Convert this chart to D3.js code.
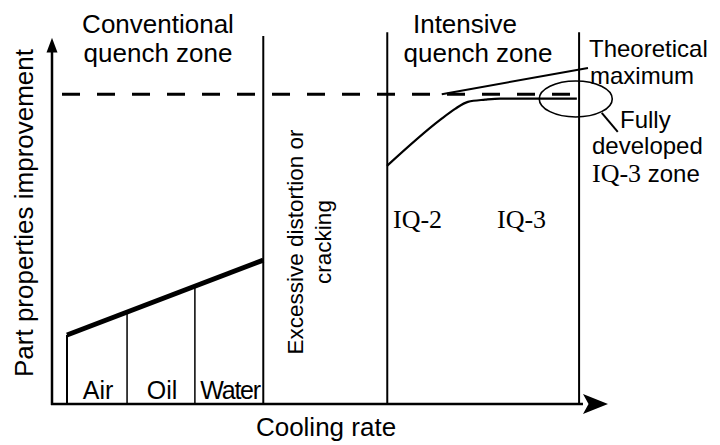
<!DOCTYPE html>
<html>
<head>
<meta charset="utf-8">
<script src="https://cdn.jsdelivr.net/npm/d3@7"></script>
<style>
  body { margin: 0; background: #fff; }
  svg { display: block; }
  text { font-family: "Liberation Sans", Arial, sans-serif; fill: #000; }
  .serif { font-family: "Liberation Serif", "Times New Roman", serif; }
</style>
</head>
<body>
<div id="chart"></div>
<script>
  // cooling rate (x) and improvement (y) are schematic, 0-100 each
  const mediaBounds = [2.7, 13.5, 25.7, 38.0];
  const mediaLabels = ["Air", "Oil", "Water"];
  const conventionalLine = [[2.7, 18.75], [38.0, 39.1]];
  const zoneDividers = [38.0, 60.3, 94.8];
  const zoneTitles = [["Conventional", "quench zone"], ["Intensive", "quench zone"]];
  const intensiveCurve = [[60.25, 64.7], [69.8, 77.2], [72.5, 80.2], [74.8, 82.1], [77.9, 82.7], [80.6, 83.0], [94.4, 83.0]];
  const theoreticalMax = 84.2;
  const theoreticalLine = [[70.1, 84.2], [96.4, 91.3]];
  const iqStages = ["IQ-2", "IQ-3"];
  const fullyDeveloped = {x: 94.2, y: 82.9};

  const width = 720, height = 445;
  const x = d3.scaleLinear().domain([0, 100]).range([52, 608]);
  const y = d3.scaleLinear().domain([0, 100]).range([404, 36]);

  const svg = d3.select("#chart").append("svg")
    .attr("width", width)
    .attr("height", height);

  const line = d3.line().x(d => x(d[0])).y(d => y(d[1]));

  // zone dividers
  svg.selectAll(".divider")
    .data(zoneDividers)
    .enter().append("line")
    .attr("class", "divider")
    .attr("x1", d => x(d)).attr("x2", d => x(d))
    .attr("y1", (d, i) => i === 0 ? y(100) : y(101))
    .attr("y2", y(0))
    .attr("stroke", "#000")
    .attr("stroke-width", 2);

  // media sub-zones (Air / Oil / Water)
  svg.selectAll(".media")
    .data(mediaBounds.slice(0, 3))
    .enter().append("line")
    .attr("class", "media")
    .attr("x1", d => x(d)).attr("x2", d => x(d))
    .attr("y1", d => {
      // the sub-zone line stops where it meets the thick line
      const a = conventionalLine[0], b = conventionalLine[1];
      return y(a[1] + (b[1] - a[1]) * (d - a[0]) / (b[0] - a[0]));
    })
    .attr("y2", y(0))
    .attr("stroke", "#000")
    .attr("stroke-width", (d, i) => i === 0 ? 2 : 1.5);

  svg.selectAll(".mediaLabel")
    .data(mediaLabels)
    .enter().append("text")
    .attr("class", "mediaLabel")
    .attr("x", (d, i) => (x(mediaBounds[i]) + x(mediaBounds[i + 1])) / 2 + 1)
    .attr("y", 399)
    .attr("text-anchor", "middle")
    .style("font-size", "25px")
    .style("letter-spacing", d => d === "Water" ? "-1.2px" : null)
    .text(d => d);

  // conventional quench line
  svg.append("path")
    .attr("d", line(conventionalLine))
    .attr("fill", "none")
    .attr("stroke", "#000")
    .attr("stroke-width", 5);

  // theoretical maximum (dashed)
  svg.append("line")
    .attr("x1", x(1.8)).attr("x2", x(94.1))
    .attr("y1", y(theoreticalMax)).attr("y2", y(theoreticalMax))
    .attr("stroke", "#000")
    .attr("stroke-width", 3)
    .attr("stroke-dasharray", "18,17");

  svg.append("path")
    .attr("d", line(theoreticalLine))
    .attr("fill", "none")
    .attr("stroke", "#000")
    .attr("stroke-width", 2);

  // intensive quench curve
  svg.append("path")
    .attr("d", d3.line().x(d => x(d[0])).y(d => y(d[1])).curve(d3.curveMonotoneX)(intensiveCurve))
    .attr("fill", "none")
    .attr("stroke", "#000")
    .attr("stroke-width", 2.2);

  // fully developed IQ-3 ellipse + leader
  svg.append("ellipse")
    .attr("cx", x(fullyDeveloped.x))
    .attr("cy", y(fullyDeveloped.y))
    .attr("rx", 36.5).attr("ry", 18)
    .attr("fill", "none")
    .attr("stroke", "#000")
    .attr("stroke-width", 1.6);
  svg.append("line")
    .attr("x1", x(fullyDeveloped.x) + 26).attr("y1", y(fullyDeveloped.y) + 14)
    .attr("x2", x(fullyDeveloped.x) + 42).attr("y2", y(fullyDeveloped.y) + 33)
    .attr("stroke", "#000")
    .attr("stroke-width", 2);

  // axes with arrow heads
  svg.append("line")
    .attr("x1", x(0)).attr("x2", x(0))
    .attr("y1", y(0) + 1).attr("y2", y(96))
    .attr("stroke", "#000").attr("stroke-width", 2.5);
  svg.append("path")
    .attr("d", d3.line()([[x(0), y(99.5)], [x(0) - 5.5, y(95.5)], [x(0) + 5.5, y(95.5)]]) + "Z")
    .attr("fill", "#000");

  svg.append("line")
    .attr("x1", x(0) - 1).attr("x2", x(95.5))
    .attr("y1", y(0)).attr("y2", y(0))
    .attr("stroke", "#000").attr("stroke-width", 2.5);
  svg.append("path")
    .attr("d", d3.line()([[x(100), y(0)], [x(95.5), y(0) - 10], [x(96.5), y(0)], [x(95.5), y(0) + 10]]) + "Z")
    .attr("fill", "#000");

  // zone titles
  const titlePos = [[158, 158], [465, 478]];
  zoneTitles.forEach((t, i) => {
    t.forEach((s, j) => {
      svg.append("text")
        .attr("x", titlePos[i][j])
        .attr("y", 33 + j * 29)
        .attr("text-anchor", "middle")
        .style("font-size", "26px")
        .text(s);
    });
  });

  // excessive distortion label (rotated)
  const exc = svg.append("text")
    .attr("transform", "translate(" + (x(38.0) + 40) + ",242) rotate(-90)")
    .attr("text-anchor", "middle")
    .style("font-size", "22.5px");
  exc.append("tspan").attr("x", 0).attr("y", 0).text("Excessive distortion or");
  exc.append("tspan").attr("x", 0).attr("y", 28).text("cracking");

  // IQ stages
  svg.selectAll(".iq")
    .data(iqStages)
    .enter().append("text")
    .attr("class", "iq serif")
    .attr("x", (d, i) => i === 0 ? 393 : 497)
    .attr("y", 228)
    .style("font-size", "26px")
    .text(d => d);

  // right-hand annotations
  const ann = [
    {t: "Theoretical", x: 589, y: 57},
    {t: "maximum", x: 590, y: 84},
    {t: "Fully", x: 620, y: 128},
    {t: "developed", x: 592, y: 154}
  ];
  svg.selectAll(".ann")
    .data(ann)
    .enter().append("text")
    .attr("class", "ann")
    .attr("x", d => d.x)
    .attr("y", d => d.y)
    .style("font-size", "24px")
    .text(d => d.t);
  const iq3 = svg.append("text")
    .attr("x", 592).attr("y", 182)
    .style("font-size", "24px");
  iq3.append("tspan").attr("class", "serif").style("font-size", "26px").text("IQ-3");
  iq3.append("tspan").text(" zone");

  // axis titles
  svg.append("text")
    .attr("x", 326).attr("y", 436)
    .attr("text-anchor", "middle")
    .style("font-size", "26px")
    .text("Cooling rate");

  svg.append("text")
    .attr("transform", "translate(33,213) rotate(-90)")
    .attr("text-anchor", "middle")
    .style("font-size", "26px")
    .text("Part properties improvement");
</script>
</body>
</html>
